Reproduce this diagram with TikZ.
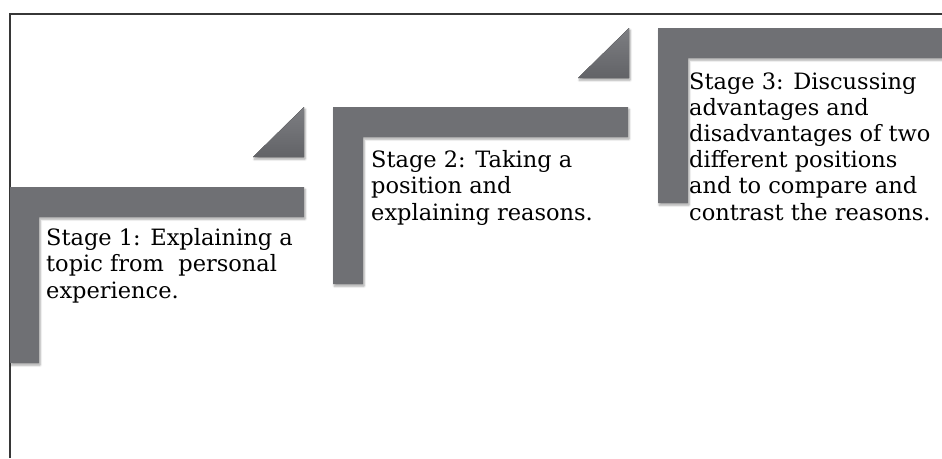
\documentclass[tikz,border=0pt]{standalone}
\usepackage{fontspec}
\setmainfont{DejaVu Serif}
\usetikzlibrary{shadows.blur}
\definecolor{bargray}{RGB}{111,112,116}
\definecolor{tritop}{RGB}{125,126,130}
\definecolor{tribot}{RGB}{98,99,103}
\definecolor{framegray}{RGB}{55,55,55}
\tikzset{
  stagebar/.style={fill=bargray, draw=none,
    blur shadow={shadow xshift=1.2pt, shadow yshift=-2.2pt, shadow blur steps=6, shadow opacity=35}},
  stagetri/.style={top color=tritop, bottom color=tribot, draw=none,
    blur shadow={shadow xshift=1.2pt, shadow yshift=-2.2pt, shadow blur steps=6, shadow opacity=35}},
  stagetext/.style={anchor=base west, align=left, inner sep=0pt,
    font=\fontsize{22.5pt}{26.2pt}\selectfont, text=black},
  framerule/.style={draw=framegray, line width=1.6pt}
}
\begin{document}
\begin{tikzpicture}[x=1pt, y=-1pt]
\useasboundingbox (0,0) rectangle (942,458);
% frame
\draw[framerule] (10,458) -- (10,14) -- (942,14);
% stage 1
\fill[stagetri] (253,157) -- (304,107) -- (304,157) -- cycle;
\fill[stagebar] (10,187) -- (304,187) -- (304,217) -- (39,217) -- (39,363) -- (10,363) -- cycle;
% stage 2
\fill[stagetri] (578,78) -- (629,28) -- (629,78) -- cycle;
\fill[stagebar] (333,107) -- (628,107) -- (628,137) -- (363,137) -- (363,284) -- (333,284) -- cycle;
% stage 3
\fill[stagebar] (658,28) -- (942,28) -- (942,58) -- (688,58) -- (688,203) -- (658,203) -- cycle;
% texts (anchored at the baseline of the last line)
\node[stagetext] (s1) at (46,298) {Stage 1: Explaining a\\topic from\ \ personal\\experience.};
\node[stagetext] (s2) at (371,220) {Stage 2: Taking a\\position and\\explaining reasons.};
\node[stagetext] (s3) at (689,220) {Stage 3: Discussing\\advantages and\\disadvantages of two\\different positions\\and to compare and\\contrast the reasons.};
\end{tikzpicture}
\end{document}
